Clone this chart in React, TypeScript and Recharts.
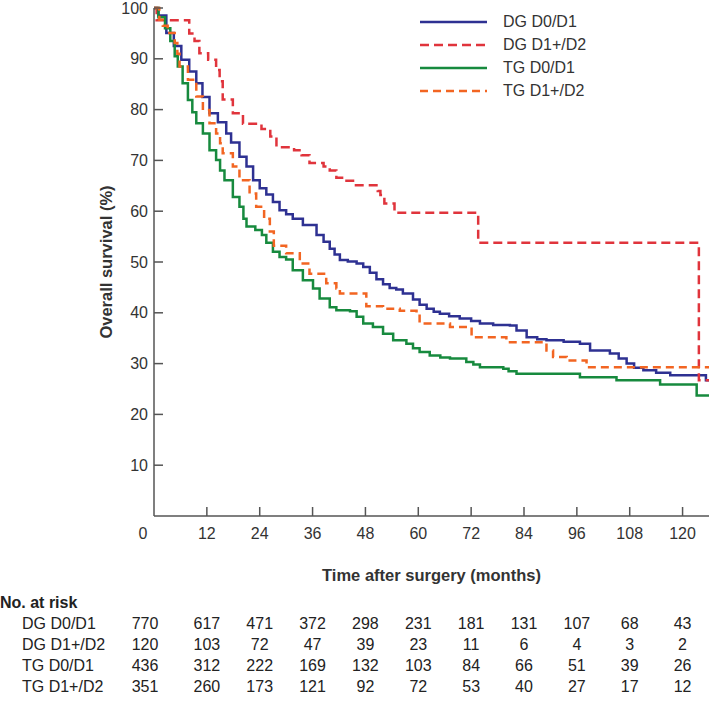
import { Legend, Line, LineChart, XAxis, YAxis } from "recharts";

// Kaplan-Meier curves (months, % surviving)
const dgD0Times = [0, 1, 2.8, 4.5, 6.2, 8, 9.6, 11, 12.6, 14.5, 16.4, 17.5, 19.4, 21, 22.5, 24, 25.5, 27, 28.5, 30, 31.5, 33.8, 36.9, 38.5, 39.9, 41, 42.2, 44, 46, 47.5, 49, 50.5, 52, 53.5, 55, 56.5, 58.8, 60.3, 61.9, 63.5, 64.9, 67, 69.4, 72, 74, 77, 80.8, 82.3, 84.6, 87, 89.1, 93, 96.7, 99, 103.5, 105.5, 107.3, 109, 111.1, 114, 117.2, 125.3, 126];
const dgD0Surv = [100, 98.5, 95.1, 92.5, 89.8, 87.5, 85.2, 82.5, 79.3, 77.5, 75.3, 73.5, 70.7, 68.8, 66.1, 64.5, 63.3, 61.8, 60.2, 59.4, 58.5, 57.3, 55.3, 54.0, 52.6, 51.5, 50.4, 50.1, 49.7, 49.0, 47.9, 46.6, 45.6, 44.9, 44.6, 43.8, 42.6, 41.6, 40.8, 40.2, 39.8, 39.3, 38.9, 38.4, 37.9, 37.6, 37.5, 36.5, 35.2, 34.8, 34.6, 34.3, 33.9, 32.6, 32.0, 31.0, 30.0, 29.2, 28.7, 28.2, 27.7, 26.7, 26.7];

const dgD1Times = [0, 0.6, 8, 9.2, 10.3, 12.3, 14.1, 14.9, 15.6, 17.9, 20.2, 24.4, 26.4, 27.8, 31.8, 33.5, 35.3, 38.5, 39.9, 41.4, 43.7, 45.5, 50.8, 51.4, 52.3, 54.6, 73.6, 123.7, 126];
const dgD1Surv = [100, 97.6, 95.0, 93.5, 91.1, 89.8, 87.8, 85.6, 82.0, 79.3, 77.2, 76.2, 74.7, 72.6, 72.0, 71.0, 69.5, 68.8, 68.0, 66.6, 66.0, 65.1, 64.0, 63.2, 61.5, 59.7, 53.8, 26.7, 26.7];

const tgD0Times = [0, 1, 2.5, 3.7, 4.7, 5.4, 6.5, 7.7, 8.7, 9.6, 11.1, 12.6, 14.1, 15, 16, 17.9, 19.4, 20.3, 21, 23, 24.5, 25.5, 27, 28.5, 30, 31.5, 33.8, 36.1, 37.6, 39.9, 41.4, 44.5, 46, 47.5, 49.7, 52, 54.3, 57.3, 58.8, 60.3, 62.6, 65, 67.2, 70.9, 72.5, 74, 79.3, 80.5, 82.3, 96.7, 105, 114.9, 123.2, 126];
const tgD0Surv = [100, 98.2, 96, 93.5, 90.5, 88.5, 85.2, 81.9, 79.5, 77.3, 75.3, 72.0, 70.1, 68, 66.1, 62.8, 60.9, 58.5, 57, 56.3, 55.3, 53.8, 52.0, 51.0, 50.5, 48.4, 46.4, 44.8, 42.8, 41.1, 40.5, 40.3, 39.2, 37.9, 37.2, 35.9, 34.6, 33.9, 33.0, 32.3, 31.6, 31.2, 31.0, 30.3, 29.8, 29.3, 29.0, 28.5, 28.0, 27.3, 26.7, 25.9, 23.7, 23.7];

const tgD1Times = [0, 1.2, 2, 3.1, 4.7, 5.3, 5.8, 7.7, 9.6, 11.1, 12.6, 14.1, 15, 15.6, 17.9, 19.4, 21.7, 23.2, 25, 26.3, 27.2, 30, 33.1, 35.3, 39.1, 41.4, 42.2, 48.2, 52, 55.8, 59.6, 60.3, 67.2, 72.1, 80, 89.1, 90.6, 93.7, 98.2, 126];
const tgD1Surv = [100, 97.7, 96.5, 95.1, 93.1, 91.0, 88.5, 85.9, 82.6, 79.9, 77.3, 75.3, 73.4, 71.4, 68.8, 66.1, 63.5, 60.9, 58.5, 56.0, 53.2, 51.7, 49.7, 47.7, 45.8, 44.8, 43.8, 41.3, 40.8, 40.4, 39.8, 37.9, 37.2, 35.2, 34.2, 32.6, 31.3, 30.6, 29.3, 29.3];

const xTicks = [0, 12, 24, 36, 48, 60, 72, 84, 96, 108, 120];
const yTicks = [10, 20, 30, 40, 50, 60, 70, 80, 90, 100];

// numbers at risk, one per x tick
const groupNames = ["DG D0/D1", "DG D1+/D2", "TG D0/D1", "TG D1+/D2"];
const riskDgD0 = [770, 617, 471, 372, 298, 231, 181, 131, 107, 68, 43];
const riskDgD1 = [120, 103, 72, 47, 39, 23, 11, 6, 4, 3, 2];
const riskTgD0 = [436, 312, 222, 169, 132, 103, 84, 66, 51, 39, 26];
const riskTgD1 = [351, 260, 173, 121, 92, 72, 53, 40, 27, 17, 12];

const FONT = '"Liberation Sans", Arial, Helvetica, sans-serif';
const AXIS = "#555";
const TEXT = "#333";

const toPoints = (times: number[], surv: number[]) =>
  times.map((t, i) => ({ t, s: surv[i] }));

const series = [
  { name: groupNames[0], data: toPoints(dgD0Times, dgD0Surv), color: "#2e3192", dash: undefined },
  { name: groupNames[1], data: toPoints(dgD1Times, dgD1Surv), color: "#e0343c", dash: "9 5" },
  { name: groupNames[2], data: toPoints(tgD0Times, tgD0Surv), color: "#178a3e", dash: undefined },
  { name: groupNames[3], data: toPoints(tgD1Times, tgD1Surv), color: "#f26522", dash: "8 5" },
];
const riskRows = [riskDgD0, riskDgD1, riskTgD0, riskTgD1];

// plot geometry (shared with the at-risk table underneath)
const CHART_W = 709;
const CHART_H = 600;
const PLOT_LEFT = 154;
const X_MAX = 126;
const colX = (t: number) =>
  PLOT_LEFT + (t * (CHART_W - PLOT_LEFT)) / X_MAX - (t === 0 ? 9 : 0);

function YTick({ x, y, payload }: any) {
  return (
    <g>
      <line x1={x} x2={x + 9} y1={y} y2={y} stroke={AXIS} strokeWidth={1.5} />
      <text x={x - 6} y={y} dy={5.5} textAnchor="end" fontSize={16} fontFamily={FONT} fill={TEXT}>
        {payload.value}
      </text>
    </g>
  );
}

function XTick({ x, y, payload }: any) {
  const first = payload.value === 0;
  return (
    <g>
      {!first && <line x1={x} x2={x} y1={y} y2={y - 9} stroke={AXIS} strokeWidth={1.5} />}
      <text x={first ? x - 11 : x} y={y + 23} textAnchor="middle" fontSize={16} fontFamily={FONT} fill={TEXT}>
        {payload.value}
      </text>
    </g>
  );
}

function YTitle(props: any) {
  const vb = props.viewBox ?? { x: 0, y: 8, width: PLOT_LEFT, height: 508 };
  const cx = vb.x + vb.width - 48;
  const cy = vb.y + vb.height / 2;
  return (
    <text
      x={cx}
      y={cy}
      transform={`rotate(-90, ${cx}, ${cy})`}
      textAnchor="middle"
      dominantBaseline="central"
      fontSize={16.5}
      fontWeight="bold"
      fontFamily={FONT}
      fill={TEXT}
    >
      Overall survival (%)
    </text>
  );
}

function XTitle(props: any) {
  const vb = props.viewBox ?? { x: PLOT_LEFT, y: 516, width: CHART_W - PLOT_LEFT, height: 84 };
  return (
    <text
      x={vb.x + vb.width / 2}
      y={vb.y + 65}
      textAnchor="middle"
      fontSize={16.5}
      fontWeight="bold"
      fontFamily={FONT}
      fill={TEXT}
    >
      Time after surgery (months)
    </text>
  );
}

function LegendBox() {
  return (
    <div style={{ fontFamily: FONT, fontSize: 16, color: TEXT }}>
      {series.map((s) => (
        <div key={s.name} style={{ display: "flex", alignItems: "center", height: 23 }}>
          <svg width={67} height={6} style={{ marginRight: 16 }}>
            <line x1={0} x2={67} y1={3} y2={3} stroke={s.color} strokeWidth={2.5} strokeDasharray={s.dash} />
          </svg>
          <span>{s.name}</span>
        </div>
      ))}
    </div>
  );
}

export default function App() {
  return (
    <div style={{ position: "absolute", left: 0, top: 0, width: 709, height: 707, background: "#fff" }}>
      <LineChart width={CHART_W} height={CHART_H} margin={{ top: 8, right: 0, bottom: 0, left: 0 }}>
        <XAxis
          type="number"
          dataKey="t"
          domain={[0, X_MAX]}
          ticks={xTicks}
          interval={0}
          height={84}
          tickSize={0}
          tickMargin={0}
          tickLine={false}
          tick={<XTick />}
          axisLine={{ stroke: AXIS, strokeWidth: 1.5 }}
          allowDataOverflow
          label={{ content: (p: any) => <XTitle {...p} /> }}
        />
        <YAxis
          type="number"
          domain={[0, 100]}
          ticks={yTicks}
          interval={0}
          width={PLOT_LEFT}
          tickSize={0}
          tickMargin={0}
          tickLine={false}
          tick={<YTick />}
          axisLine={{ stroke: AXIS, strokeWidth: 1.5 }}
          label={{ content: (p: any) => <YTitle {...p} /> }}
        />
        <Legend
          layout="vertical"
          align="center"
          verticalAlign="middle"
          wrapperStyle={{ position: "absolute", left: 420, top: 10, width: 200 }}
          content={() => <LegendBox />}
        />
        {series.map((s) => (
          <Line
            key={s.name}
            name={s.name}
            data={s.data}
            dataKey="s"
            type="stepAfter"
            stroke={s.color}
            strokeWidth={2.5}
            strokeDasharray={s.dash}
            dot={false}
            activeDot={false}
            isAnimationActive={false}
          />
        ))}
      </LineChart>

      {/* No. at risk table */}
      <div style={{ position: "absolute", left: 0, top: 0, fontFamily: FONT, fontSize: 16, color: "#222" }}>
        <div style={{ position: "absolute", left: 0, top: 593, whiteSpace: "nowrap", fontWeight: "bold", lineHeight: "20px" }}>
          No. at risk
        </div>
        {riskRows.map((row, r) => (
          <div key={groupNames[r]}>
            <div style={{ position: "absolute", left: 22, top: 614 + r * 21, whiteSpace: "nowrap", lineHeight: "20px" }}>
              {groupNames[r]}
            </div>
            {row.map((n, i) => (
              <div
                key={i}
                style={{
                  position: "absolute",
                  left: colX(xTicks[i]) - 25,
                  width: 50,
                  textAlign: "center",
                  top: 614 + r * 21,
                  lineHeight: "20px",
                }}
              >
                {n}
              </div>
            ))}
          </div>
        ))}
      </div>
    </div>
  );
}
